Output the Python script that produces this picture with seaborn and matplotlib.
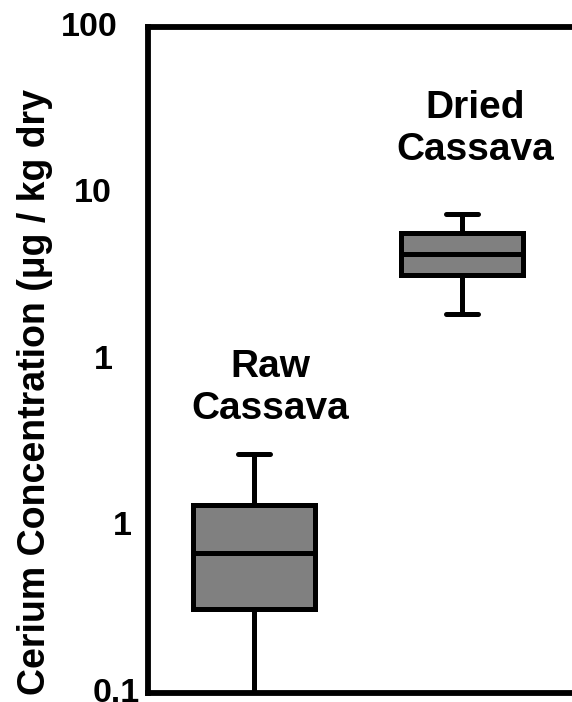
import numpy as np
import pandas as pd
import matplotlib
matplotlib.use("Agg")
import matplotlib.pyplot as plt
import seaborn as sns

# ---- data (five-number summaries) ----
categories = ["Raw Cassava", "Dried Cassava"]
raw_values = [0.08, 0.32, 0.693, 1.35, 2.73]
dried_values = [18.9, 32.4, 43.3, 57.9, 75.3]
tick_values = [0.1, 1, 10, 100, 1000]
tick_labels = ["0.1", "1", "1", "10", "100"]
annotations = ["Raw\nCassava", "Dried\nCassava"]
ylabel_text = "Cerium Concentration (\u03bcg / kg dry"

df = pd.DataFrame({
    "group": [categories[0]] * len(raw_values) + [categories[1]] * len(dried_values),
    "value": raw_values + dried_values,
})

sns.set_theme(style="white")
plt.rcParams["font.family"] = ["Liberation Sans", "DejaVu Sans"]
plt.rcParams["font.weight"] = "bold"
plt.rcParams["text.color"] = "black"

W, H = 572, 702
fig = plt.figure(figsize=(W / 100, H / 100), dpi=100)
ax = fig.add_axes([148 / W, 1 - 693 / H, 432 / W, 666 / H])

sns.boxplot(
    data=df, x="group", y="value", order=categories, ax=ax,
    color="#808080", saturation=1, width=0.59, whis=(0, 100),
    linecolor="black", linewidth=3.6, log_scale=True, capwidths=0.155,
    showfliers=False,
)

ax.set_ylim(0.1, 1000)
ax.set_xlim(-0.51, 1.567)
ax.set_xlabel("")
ax.set_ylabel("")
ax.set_xticks([])
ax.set_yticks(tick_values)
ax.set_yticklabels([])
ax.yaxis.set_minor_locator(matplotlib.ticker.NullLocator())
ax.tick_params(axis="both", length=0)
for s in ax.spines.values():
    s.set_linewidth(4.2)
    s.set_color("black")

# tick labels with individual offsets (as in the reference)
label_pads = [8, 16, 35, 36, 30]
trans = ax.get_yaxis_transform()
for v, lab, pad in zip(tick_values, tick_labels, label_pads):
    ax.annotate(lab, xy=(0, v), xycoords=trans, xytext=(-pad, 0),
                textcoords="offset pixels", ha="right", va="center",
                fontsize=24.5, fontweight="bold", color="black",
                annotation_clip=False)

# group annotations
fig.text(270 / W, 1 - 388 / H, annotations[0], ha="center", va="center",
         fontsize=28, fontweight="bold", linespacing=1.2, color="black")
fig.text(475 / W, 1 - 129 / H, annotations[1], ha="center", va="center",
         fontsize=28, fontweight="bold", linespacing=1.2, color="black")

fig.text(35 / W, 1 - 695 / H, ylabel_text, rotation=90, ha="center", va="bottom",
         fontsize=27, fontweight="bold", color="black")

fig.savefig("out.png", dpi=100)
